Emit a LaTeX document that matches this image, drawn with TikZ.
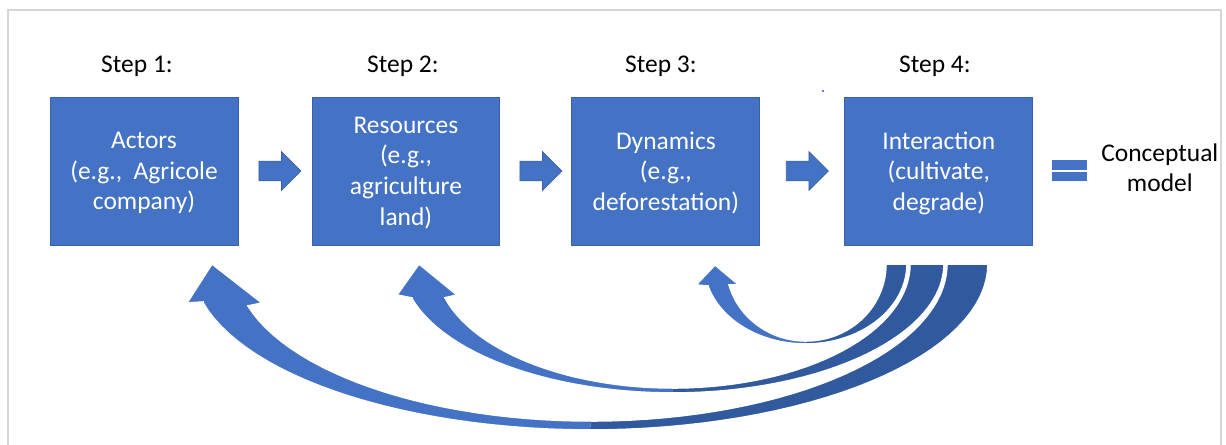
\documentclass[tikz,border=0pt]{standalone}
\usepackage{fontspec}
\setmainfont{Carlito}
\usetikzlibrary{positioning, shapes.arrows, calc}
\definecolor{boxblue}{HTML}{4472C4}
\definecolor{backblue}{HTML}{30599E}
\definecolor{framegray}{HTML}{D6D6D6}

\begin{document}
\begin{tikzpicture}[x=0.02cm, y=-0.02cm, on grid,
   stepbox/.style={rectangle, fill=boxblue, draw=boxblue!85!black, line width=0.5pt,
      minimum width=3.76cm, minimum height=2.96cm, inner sep=0pt, text=white,
      text depth=0pt, align=center, font=\fontsize{14.5}{17.4}\selectfont},
   steplabel/.style={align=center, font=\fontsize{14.5}{17}\selectfont},
   fwd/.style={single arrow, fill=boxblue, draw=boxblue!85!black, line width=0.4pt,
      minimum height=0.84cm, inner xsep=0pt, inner ysep=0.19cm,
      single arrow head extend=0.19cm},
   front/.style={fill=boxblue},
   back/.style={fill=backblue},
   rim/.style={draw=white, line width=0.9pt}]
   \useasboundingbox (0,0) rectangle (1226,445);
   \draw[framegray, line width=1.1pt] (8,445) -- (8,10) -- (1221,10) -- (1221,445);

   \node[stepbox] (a) at (144,171) {Actors\\(e.g.,~ Agricole\\company)};
   \node[stepbox, right=5.24cm of a] (b) {Resources\\(e.g.,\\agriculture\\land)};
   \node[stepbox, right=5.2cm of b] (c) {Dynamics\\(e.g.,\\deforestation)};
   \node[stepbox, right=5.46cm of c] (d) {Interaction\\(cultivate,\\degrade)};

   \node[steplabel, above=2.1cm of a, xshift=-0.14cm] (s1) {Step 1:};
   \node[steplabel, above=2.1cm of b, xshift=-0.06cm] (s2) {Step 2:};
   \node[steplabel, above=2.1cm of c, xshift=-0.1cm] (s3) {Step 3:};
   \node[steplabel, above=2.1cm of d, xshift=-0.08cm] (s4) {Step 4:};

   \node[fwd] (ab) at ($(a.east)!.5!(b.west)$) {};
   \node[fwd] (bc) at ($(b.east)!.5!(c.west)$) {};
   \node[fwd] (cd) at ($(c.east)!.5!(d.west)$) {};

   \coordinate[right=2.61cm of d] (eq);
   \fill[boxblue] ($(eq)+(-17.5,-10.5)$) rectangle ($(eq)+(17.5,-0.5)$);
   \fill[boxblue] ($(eq)+(-17.5,1.5)$) rectangle ($(eq)+(17.5,10.5)$);
   \node[steplabel, right=4.42cm of d, yshift=0.06cm] (m) {Conceptual\\model};

   \fill[blue!75] (823,91) circle[radius=0.7pt];

   % back to step 1
   \path[front] (212,264) -- (187,303) -- (203,302)
      -- plot[domain=166.5:90, samples=40, variable=\t] ({590+398*cos(\t)},{264+166*sin(\t)})
      -- plot[domain=90:164.5, samples=40, variable=\t] ({591+356*cos(\t)},{264+157*sin(\t)})
      -- (262,303) -- cycle;
   \path[back] plot[domain=90:0, samples=40, variable=\t] ({590+398*cos(\t)},{264+166*sin(\t)})
      -- plot[domain=0:90, samples=40, variable=\t] ({591+356*cos(\t)},{264+157*sin(\t)}) -- cycle;
   \path[rim] (212,264) -- (187,303) -- (203,302)
      -- plot[domain=166.5:0, samples=60, variable=\t] ({590+398*cos(\t)},{264+166*sin(\t)})
      -- plot[domain=0:164.5, samples=60, variable=\t] ({591+356*cos(\t)},{264+157*sin(\t)})
      -- (262,303) -- cycle;

   % back to step 2
   \path[front] (419,264) -- (397,295) -- (412,298)
      -- plot[domain=164.4:90, samples=40, variable=\t] ({673+271*cos(\t)},{264+129*sin(\t)})
      -- plot[domain=90:164.2, samples=40, variable=\t] ({673+237*cos(\t)},{264+124*sin(\t)})
      -- (457,295) -- cycle;
   \path[back] plot[domain=90:0, samples=40, variable=\t] ({673+271*cos(\t)},{264+129*sin(\t)})
      -- plot[domain=0:90, samples=40, variable=\t] ({673+237*cos(\t)},{264+124*sin(\t)}) -- cycle;
   \path[rim] (419,264) -- (397,295) -- (412,298)
      -- plot[domain=164.4:0, samples=60, variable=\t] ({673+271*cos(\t)},{264+129*sin(\t)})
      -- plot[domain=0:164.2, samples=60, variable=\t] ({673+237*cos(\t)},{264+124*sin(\t)})
      -- (457,295) -- cycle;

   % back to step 3
   \path[front] (715,265) -- (696,285) -- (708,286)
      -- plot[domain=163.9:90, samples=30, variable=\t] ({805.5+101.5*cos(\t)},{264+80*sin(\t)})
      -- plot[domain=90:164.3, samples=30, variable=\t] ({806+80*cos(\t)},{264+77*sin(\t)})
      -- (739,285) -- cycle;
   \path[back] plot[domain=90:0, samples=30, variable=\t] ({805.5+101.5*cos(\t)},{264+80*sin(\t)})
      -- plot[domain=0:90, samples=30, variable=\t] ({806+80*cos(\t)},{264+77*sin(\t)}) -- cycle;
   \path[rim] (715,265) -- (696,285) -- (708,286)
      -- plot[domain=163.9:0, samples=50, variable=\t] ({805.5+101.5*cos(\t)},{264+80*sin(\t)})
      -- plot[domain=0:164.3, samples=50, variable=\t] ({806+80*cos(\t)},{264+77*sin(\t)})
      -- (739,285) -- cycle;
\end{tikzpicture}
\end{document}
